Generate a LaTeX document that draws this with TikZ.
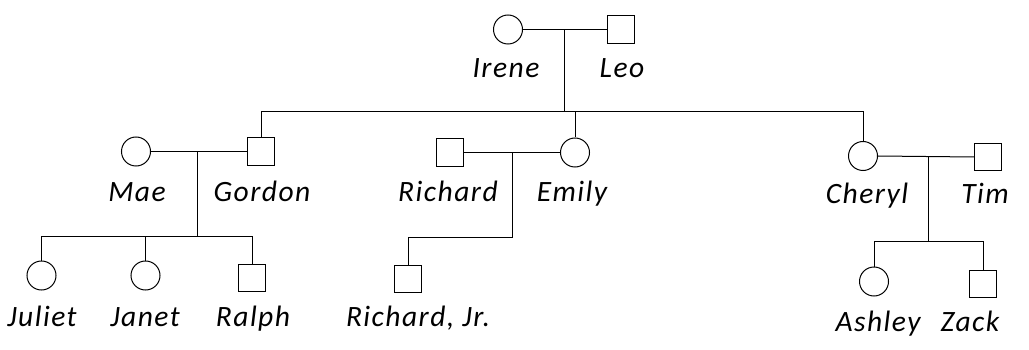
\documentclass[tikz,border=0pt]{standalone}
\usepackage{fontspec}
\setmainfont{Carlito}
\newfontfamily\namefont[LetterSpace=5]{Carlito}
\begin{document}
\begin{tikzpicture}[x=1pt,y=-1pt,line width=1pt,
  fem/.style={draw,circle,minimum size=29pt,inner sep=0pt},
  mal/.style={draw,rectangle,minimum size=27.5pt,inner sep=0pt},
  nm/.style={anchor=base,inner sep=0pt,font=\namefont\fontsize{29.5}{31}\selectfont\itshape}]
\useasboundingbox (0,0) rectangle (1029,350);
% generation 1
\node[fem] (irene) at (508,29.5) {};
\node[mal] (leo) at (621,29.5) {};
\node[nm] (lirene) at (506,78) {Irene};
\node[nm] (lleo) at (622,78) {Leo};
% generation 2
\node[fem] (mae) at (136,151.5) {};
\node[mal] (gordon) at (261,151.5) {};
\node[mal] (richard) at (450,152.5) {};
\node[fem] (emily) at (575,152.5) {};
\node[fem] (cheryl) at (863,156) {};
\node[mal] (tim) at (988,157) {};
\node[nm] (lmae) at (137,202) {Mae};
\node[nm] (lgordon) at (262,202) {Gordon};
\node[nm] (lrichard) at (448,202) {Richard};
\node[nm] (lemily) at (572,202) {Emily};
\node[nm] (lcheryl) at (867,204) {Cheryl};
\node[nm] (ltim) at (985,204) {Tim};
% generation 3
\node[fem] (juliet) at (41.5,275.5) {};
\node[fem] (janet) at (145.5,275.5) {};
\node[mal] (ralph) at (252,278) {};
\node[mal] (rjr) at (408,279) {};
\node[fem] (ashley) at (874,281.5) {};
\node[mal] (zack) at (983,284) {};
\node[nm] (ljuliet) at (42,326) {Juliet};
\node[nm] (ljanet) at (145,326) {Janet};
\node[nm] (lralph) at (253,326) {Ralph};
\node[nm] (lrjr) at (418,326) {Richard, Jr.};
\node[nm] (lashley) at (878,331) {Ashley};
\node[nm] (lzack) at (970,331) {Zack};
% junctions
\coordinate (m1) at (564,29.5);
\coordinate (s1) at (564,112);
\coordinate (m2) at (197.5,151.5);
\coordinate (s2) at (197.5,236);
\coordinate (m3) at (512.5,152.5);
\coordinate (s3) at (512.5,237);
\coordinate (m4) at (928,156.5);
\coordinate (s4) at (928,241);
% marriages
\draw (irene) -- (leo);
\draw (mae) -- (gordon);
\draw (richard) -- (emily);
\draw (cheryl.east) -- (tim.west);
% descents
\draw (m1) -- (s1);
\draw (s1) -| (gordon.north);
\draw (s1) -| (emily.north);
\draw (s1) -| (cheryl.north);
\draw (m2) -- (s2);
\draw (s2) -| (juliet.north);
\draw (s2) -| (janet.north);
\draw (s2) -| (ralph.north);
\draw (m3) -- (s3) -| (rjr.north);
\draw (m4) -- (s4);
\draw (s4) -| (ashley.north);
\draw (s4) -| (zack.north);
\end{tikzpicture}
\end{document}
